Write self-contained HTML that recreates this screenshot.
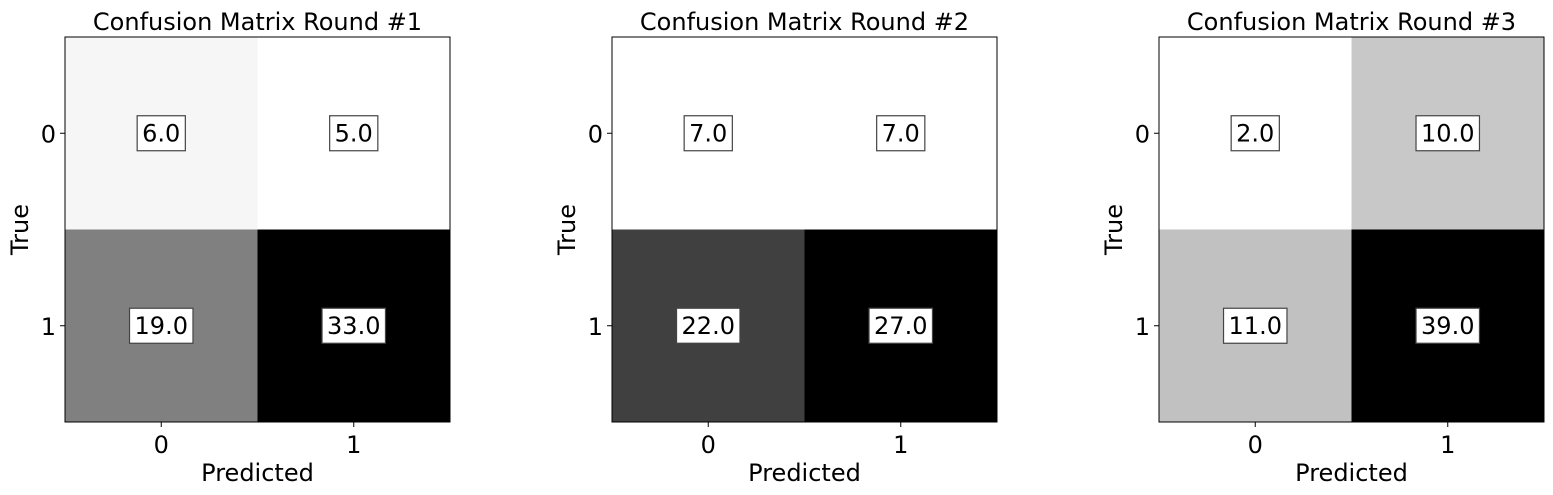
<!DOCTYPE html>
<html><head><meta charset="utf-8"><style>
html,body{margin:0;padding:0;background:#fff;}
svg{display:block;font-family:"DejaVu Sans","Liberation Sans",sans-serif;}
</style></head><body>
<svg id="c" width="1553" height="495"></svg>
<script>
const titles = ["Confusion Matrix Round #1","Confusion Matrix Round #2","Confusion Matrix Round #3"];
const matrices = [
  [[6,5],[19,33]],
  [[7,7],[22,27]],
  [[2,10],[11,39]]
];
const classLabels = ["0","1"];
const panelLefts = [65,612,1159];
const NS="http://www.w3.org/2000/svg";
const svg=document.getElementById('c');
function mk(tag,attrs,parent){const e=document.createElementNS(NS,tag);for(const k in attrs)e.setAttribute(k,attrs[k]);(parent||svg).appendChild(e);return e;}
const top0=37, size=385, n=2, cell=size/n, FS=24;
matrices.forEach((m,p)=>{
  const g=mk('g',{});
  
  
  const L=panelLefts[p];
  const flat=m.flat(); const mn=Math.min(...flat), mx=Math.max(...flat);
  const xs=i=>L+i*cell, ys=j=>top0+j*cell;
  m.forEach((row,r)=>row.forEach((v,c)=>{
    const t=(v-mn)/(mx-mn||1); const gv=Math.round(255*(1-t));
    const rect=mk('rect',{x:xs(c),y:ys(r),width:cell+0.5,height:cell+0.5,fill:`rgb(${gv},${gv},${gv})`},g);
    
    
    const cx=xs(c)+cell/2, cy=ys(r)+cell/2;
    const txt=v.toFixed(1);
    const box=mk('rect',{x:cx,y:cy-17.5,width:10,height:35,fill:'#fff',stroke:'#444','stroke-width':1.2},g);
    
    
    const te=mk('text',{x:cx,y:cy+8,'text-anchor':'middle','font-size':FS,fill:'#000'},g);
    te.textContent=txt;
    
    
    const w=te.getComputedTextLength()+10;
    box.setAttribute('x',cx-w/2); box.setAttribute('width',w);
  }));
  const frame=mk('rect',{x:L,y:top0,width:size,height:size,fill:'none',stroke:'#000','stroke-width':1},g);
  
  
  classLabels.forEach((lab,i)=>{
    const cx=L+i*cell+cell/2, cy=top0+i*cell+cell/2;
    mk('line',{x1:cx,y1:top0+size,x2:cx,y2:top0+size+5,stroke:'#000'},g);
    const tx=mk('text',{x:cx,y:top0+size+31,'text-anchor':'middle','font-size':FS},g);
    tx.textContent=lab;
    
    
    mk('line',{x1:L-5,y1:cy,x2:L,y2:cy,stroke:'#000'},g);
    const ty=mk('text',{x:L-9,y:cy+9,'text-anchor':'end','font-size':FS},g);
    ty.textContent=lab;
    
    
  });
  const tt=mk('text',{x:L+size/2,y:30,'text-anchor':'middle','font-size':FS},g);
  tt.textContent=titles[p];
  
  
  const xl=mk('text',{x:L+size/2,y:481,'text-anchor':'middle','font-size':FS},g);
  xl.textContent='Predicted';
  
  
  const yl=mk('text',{x:0,y:0,'text-anchor':'middle','font-size':FS,transform:`translate(${L-37},${top0+size/2}) rotate(-90)`},g);
  yl.textContent='True';
  
  
});
</script>
</body></html>
